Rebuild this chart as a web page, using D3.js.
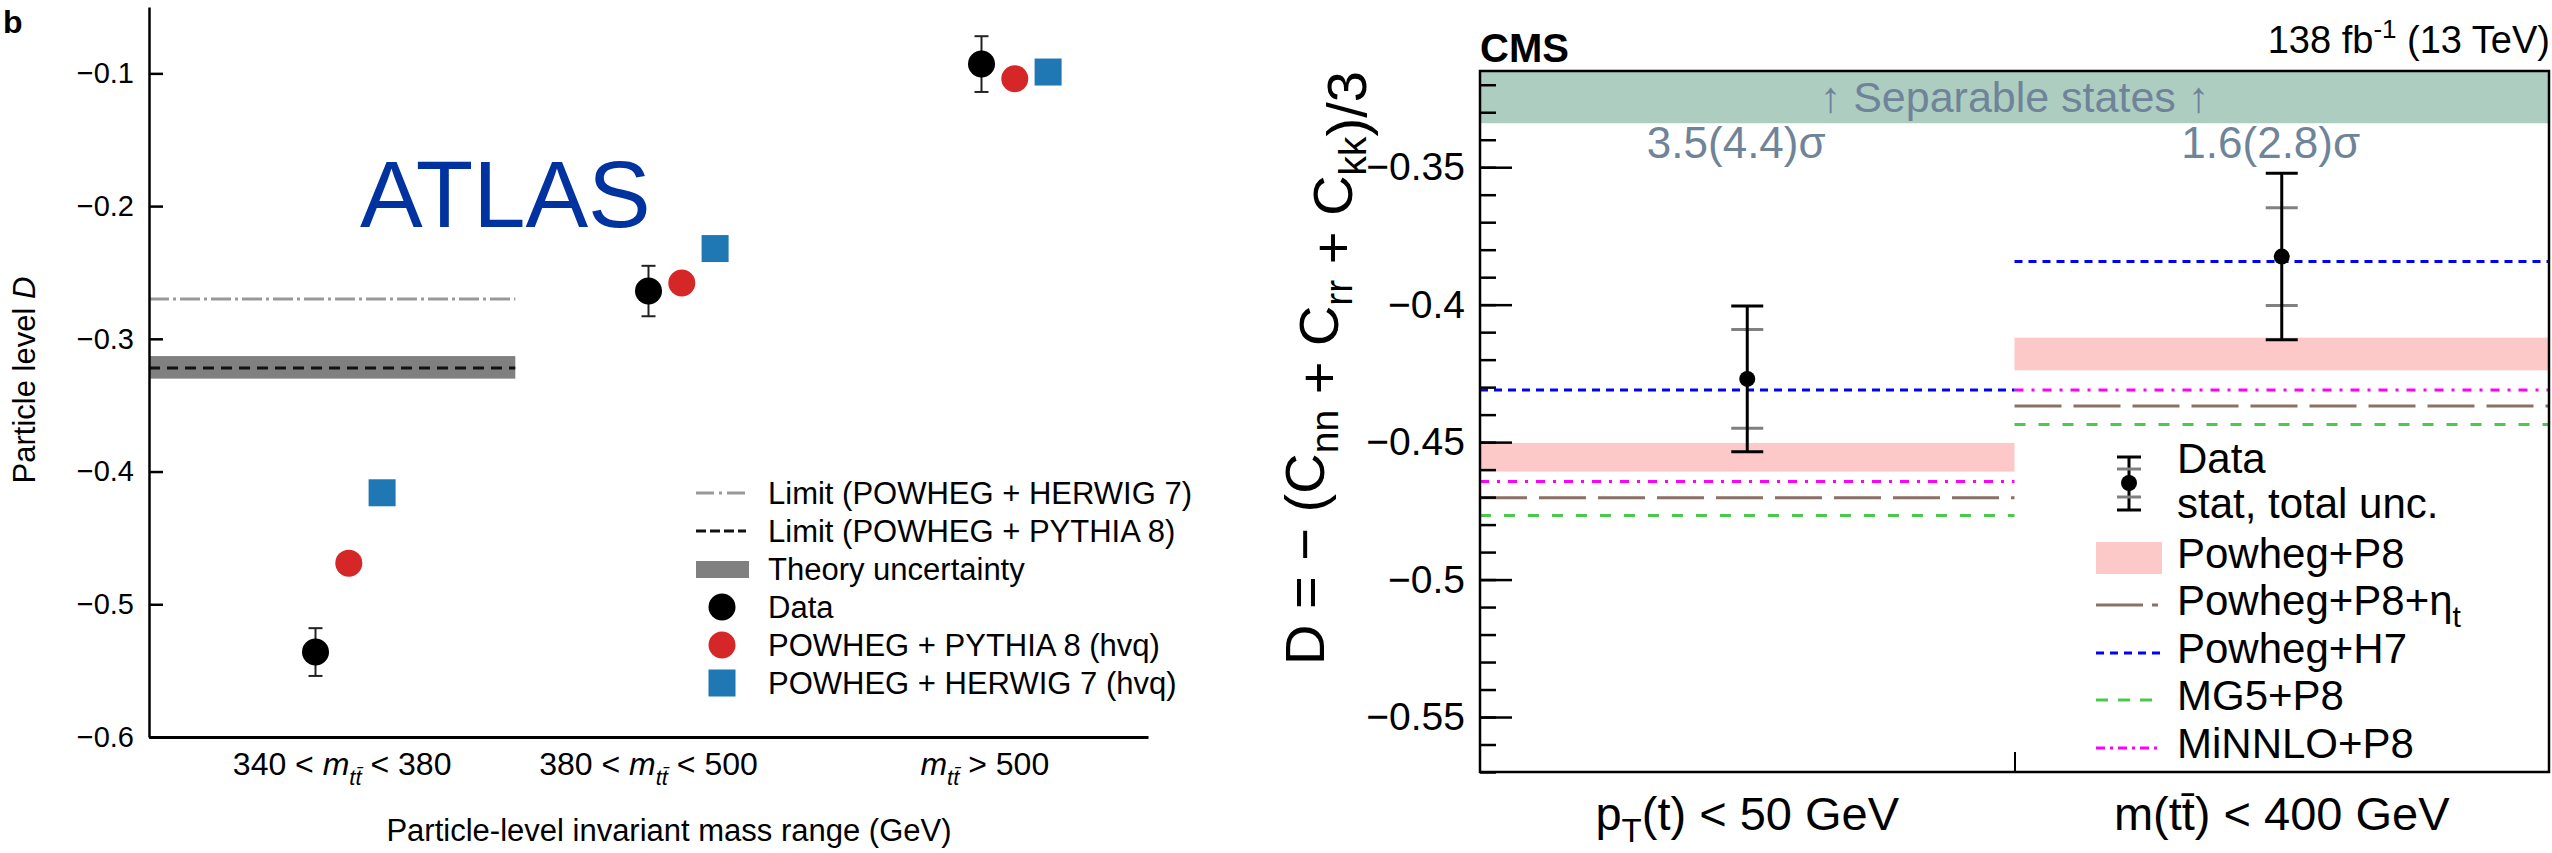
<!DOCTYPE html>
<html>
<head>
<meta charset="utf-8">
<script src="https://cdn.jsdelivr.net/npm/d3@7"></script>
<style>
  body { margin: 0; background: #fff; }
  svg text { font-family: "Liberation Sans", Arial, Helvetica, sans-serif; }
</style>
</head>
<body>
<svg id="chart" width="2552" height="853"></svg>
<script>
// ---- ATLAS panel (b) data ----
var atlasCatLabels = [["340 < ", " < 380"], ["380 < ", " < 500"], ["", " > 500"]];
var atlasLabelPos = [0.08, 1.0, 2.01];
var atlasData = [-0.536, -0.264, -0.093];
var atlasDataErr = [0.018, 0.019, 0.021];
var atlasPythia = [-0.469, -0.258, -0.104];
var atlasHerwig = [-0.416, -0.232, -0.099];
var atlasLimitHerwig = -0.270;
var atlasLimitPythia = -0.322;
var atlasTheoryBand = [-0.330, -0.313];
var atlasLimitEnd = 0.6;
var atlasYTicks = [-0.6, -0.5, -0.4, -0.3, -0.2, -0.1];
var atlasLegend = ["Limit (POWHEG + HERWIG 7)", "Limit (POWHEG + PYTHIA 8)", "Theory uncertainty",
  "Data", "POWHEG + PYTHIA 8 (hvq)", "POWHEG + HERWIG 7 (hvq)"];

// ---- CMS panel data ----
var cmsData = [-0.427, -0.3825];
var cmsStat = [0.018, 0.0178];
var cmsTotal = [0.0265, 0.0303];
var cmsP8Band = [[-0.4607, -0.4503], [-0.4239, -0.4120]];
var cmsP8Eta = [-0.4702, -0.4369];
var cmsH7 = [-0.4310, -0.3843];
var cmsMG5 = [-0.4767, -0.4436];
var cmsMiNNLO = [-0.4643, -0.4310];
var cmsSignif = ["3.5(4.4)σ", "1.6(2.8)σ"];
var cmsSeparable = -0.334;
var cmsMajorTicks = [-0.55, -0.5, -0.45, -0.4, -0.35];
var cmsMinorTicks = d3.range(-57, -31).map(function (v) { return v / 100; });

var svg = d3.select("#chart");
var FONT = '"Liberation Sans", Arial, Helvetica, sans-serif';

// ================= ATLAS =================
var ay = d3.scaleLinear().domain([-0.6, -0.05]).range([737, 7]);
var ax = d3.scaleLinear().domain([-0.5, 2.5]).range([149, 1148]);
var left = svg.append("g");

// theory band and limits (first mass bin only)
left.append("rect")
  .attr("x", ax(-0.5)).attr("width", ax(atlasLimitEnd) - ax(-0.5))
  .attr("y", ay(atlasTheoryBand[1])).attr("height", ay(atlasTheoryBand[0]) - ay(atlasTheoryBand[1]))
  .attr("fill", "#808080");
left.append("line")
  .attr("x1", ax(-0.5)).attr("x2", ax(atlasLimitEnd))
  .attr("y1", ay(atlasLimitPythia)).attr("y2", ay(atlasLimitPythia))
  .attr("stroke", "#111").attr("stroke-width", 3).attr("stroke-dasharray", "11,7");
left.append("line")
  .attr("x1", ax(-0.5)).attr("x2", ax(atlasLimitEnd))
  .attr("y1", ay(atlasLimitHerwig)).attr("y2", ay(atlasLimitHerwig))
  .attr("stroke", "#999").attr("stroke-width", 3).attr("stroke-dasharray", "20,4,3,4");

// axes
var gy = left.append("g").attr("transform", "translate(" + ax(-0.5) + ",0)")
  .call(d3.axisLeft(ay).tickValues(atlasYTicks).tickSize(-14).tickSizeOuter(0).tickPadding(15).tickFormat(d3.format("~f")));
gy.attr("font-family", FONT).attr("font-size", 29);
gy.select(".domain").attr("stroke-width", 2.5);
gy.selectAll(".tick line").attr("stroke-width", 2.5);

var gx = left.append("g").attr("transform", "translate(0," + ay(-0.6) + ")")
  .call(d3.axisBottom(ax).tickValues([]).tickSizeOuter(0));
gx.select(".domain").attr("stroke-width", 3);

// category labels
atlasCatLabels.forEach(function (lab, i) {
  var t = left.append("text")
    .attr("x", ax(atlasLabelPos[i])).attr("y", 775)
    .attr("text-anchor", "middle").attr("font-size", 32);
  t.append("tspan").text(lab[0]);
  t.append("tspan").attr("font-style", "italic").text("m");
  t.append("tspan").attr("font-style", "italic").attr("font-size", 22).attr("dy", 10).text("tt\u0304");
  t.append("tspan").attr("dy", -10).text(lab[1]);
});

// data and predictions
var dataG = left.append("g");
atlasData.forEach(function (v, i) {
  var x = ax(i), e = atlasDataErr[i];
  dataG.append("line").attr("x1", x).attr("x2", x).attr("y1", ay(v + e)).attr("y2", ay(v - e))
    .attr("stroke", "#222").attr("stroke-width", 2);
  [v + e, v - e].forEach(function (c) {
    dataG.append("line").attr("x1", x - 7).attr("x2", x + 7).attr("y1", ay(c)).attr("y2", ay(c))
      .attr("stroke", "#222").attr("stroke-width", 2);
  });
  dataG.append("circle").attr("cx", x).attr("cy", ay(v)).attr("r", 13.5).attr("fill", "#000");
});
dataG.selectAll(".py").data(atlasPythia).enter().append("circle")
  .attr("cx", function (d, i) { return ax(i + 0.1); })
  .attr("cy", function (d) { return ay(d); })
  .attr("r", 13.5).attr("fill", "#d62728");
dataG.selectAll(".hw").data(atlasHerwig).enter().append("rect")
  .attr("x", function (d, i) { return ax(i + 0.2) - 13.5; })
  .attr("y", function (d) { return ay(d) - 13.5; })
  .attr("width", 27).attr("height", 27).attr("fill", "#1f77b4");

// legend
var lg = left.append("g");
atlasLegend.forEach(function (name, i) {
  var y = 493 + i * 38;
  if (i === 0) lg.append("line").attr("x1", 696).attr("x2", 746).attr("y1", y).attr("y2", y)
    .attr("stroke", "#999").attr("stroke-width", 3).attr("stroke-dasharray", "18,5,3,5");
  if (i === 1) lg.append("line").attr("x1", 696).attr("x2", 746).attr("y1", y).attr("y2", y)
    .attr("stroke", "#111").attr("stroke-width", 3).attr("stroke-dasharray", "10,4");
  if (i === 2) lg.append("rect").attr("x", 696).attr("y", y - 8).attr("width", 53).attr("height", 17).attr("fill", "#808080");
  if (i === 3) lg.append("circle").attr("cx", 722).attr("cy", y).attr("r", 13.5).attr("fill", "#000");
  if (i === 4) lg.append("circle").attr("cx", 722).attr("cy", y).attr("r", 13.5).attr("fill", "#d62728");
  if (i === 5) lg.append("rect").attr("x", 708.5).attr("y", y - 13.5).attr("width", 27).attr("height", 27).attr("fill", "#1f77b4");
  lg.append("text").attr("x", 768).attr("y", y).attr("dy", "0.36em").attr("font-size", 31).text(name);
});

// titles
left.append("text").attr("x", 360).attr("y", 227).attr("font-size", 94).attr("fill", "#0033a0").text("ATLAS");
left.append("text").attr("x", 3).attr("y", 33).attr("font-size", 32).attr("font-weight", "bold").text("b");
var ylab = left.append("text").attr("transform", "translate(35,380) rotate(-90)")
  .attr("text-anchor", "middle").attr("font-size", 31);
ylab.append("tspan").text("Particle level ");
ylab.append("tspan").attr("font-style", "italic").text("D");
left.append("text").attr("x", 669).attr("y", 841).attr("text-anchor", "middle").attr("font-size", 31)
  .text("Particle-level invariant mass range (GeV)");

// ================= CMS =================
var cy = d3.scaleLinear().domain([-0.57, -0.315]).range([772, 71]);
var cx = d3.scaleBand().domain([0, 1]).range([1480, 2549]);
var cxl = d3.scaleLinear().domain([0, 2]).range([1480, 2549]);
var bw = cx.bandwidth();
var right = svg.append("g");

// separable states band
right.append("rect").attr("x", cx(0)).attr("width", bw * 2)
  .attr("y", cy(-0.315)).attr("height", cy(cmsSeparable) - cy(-0.315)).attr("fill", "#aecdc1");
right.append("text").attr("x", cxl(1)).attr("y", 112).attr("text-anchor", "middle")
  .attr("font-size", 43).attr("fill", "#6f8499").text("\u2191 Separable states \u2191");

// predictions
var lineStyles = [
  { vals: cmsP8Eta, color: "#8c7064", dash: "47,12" },
  { vals: cmsMG5, color: "#4cc94c", dash: "11,13" },
  { vals: cmsMiNNLO, color: "#ff00ff", dash: "9,8,3,8" },
  { vals: cmsH7, color: "#0000ff", dash: "8,6" }
];
cmsP8Band.forEach(function (b, i) {
  right.append("rect").attr("x", cx(i)).attr("width", bw)
    .attr("y", cy(b[1])).attr("height", cy(b[0]) - cy(b[1])).attr("fill", "#fcc8c8");
});
lineStyles.forEach(function (s) {
  s.vals.forEach(function (v, i) {
    right.append("line").attr("x1", cx(i)).attr("x2", cx(i) + bw).attr("y1", cy(v)).attr("y2", cy(v))
      .attr("stroke", s.color).attr("stroke-width", 3).attr("stroke-dasharray", s.dash);
  });
});

// significance labels
cmsSignif.forEach(function (s, i) {
  right.append("text").attr("x", cx(i) + bw / 2 - 11).attr("y", 158).attr("text-anchor", "middle")
    .attr("font-size", 44).attr("fill", "#6f8499").text(s);
});

// data with stat and total uncertainties
cmsData.forEach(function (v, i) {
  var x = cx(i) + bw / 2;
  [v + cmsStat[i], v - cmsStat[i]].forEach(function (c) {
    right.append("line").attr("x1", x - 16).attr("x2", x + 16).attr("y1", cy(c)).attr("y2", cy(c))
      .attr("stroke", "#808080").attr("stroke-width", 3);
  });
  right.append("line").attr("x1", x).attr("x2", x).attr("y1", cy(v + cmsTotal[i])).attr("y2", cy(v - cmsTotal[i]))
    .attr("stroke", "#000").attr("stroke-width", 3);
  [v + cmsTotal[i], v - cmsTotal[i]].forEach(function (c) {
    right.append("line").attr("x1", x - 16).attr("x2", x + 16).attr("y1", cy(c)).attr("y2", cy(c))
      .attr("stroke", "#000").attr("stroke-width", 3);
  });
  right.append("circle").attr("cx", x).attr("cy", cy(v)).attr("r", 8).attr("fill", "#000");
});

// axes and frame
var cgy = right.append("g").attr("transform", "translate(" + cx(0) + ",0)")
  .call(d3.axisLeft(cy).tickValues(cmsMajorTicks).tickSize(-32).tickSizeOuter(0).tickPadding(15).tickFormat(d3.format("~f")));
cgy.attr("font-family", FONT).attr("font-size", 39);
cgy.selectAll(".tick line").attr("stroke-width", 2.5);
right.append("g").attr("transform", "translate(" + cx(0) + ",0)")
  .call(d3.axisLeft(cy).tickValues(cmsMinorTicks).tickSize(-16).tickSizeOuter(0).tickFormat(""))
  .call(function (g) { g.select(".domain").remove(); g.selectAll(".tick line").attr("stroke-width", 2.5); });
right.append("g").attr("transform", "translate(0," + cy(-0.57) + ")")
  .call(d3.axisBottom(cxl).tickValues([1]).tickSize(-20).tickSizeOuter(0).tickFormat(""))
  .call(function (g) { g.select(".domain").remove(); g.selectAll(".tick line").attr("stroke-width", 2); });
right.append("rect").attr("x", cx(0)).attr("y", cy(-0.315)).attr("width", bw * 2).attr("height", cy(-0.57) - cy(-0.315))
  .attr("fill", "none").attr("stroke", "#000").attr("stroke-width", 2.5);

// category labels
var c0 = right.append("text").attr("x", cx(0) + bw / 2).attr("y", 830).attr("text-anchor", "middle").attr("font-size", 47);
c0.append("tspan").text("p");
c0.append("tspan").attr("font-size", 33).attr("dy", 12).text("T");
c0.append("tspan").attr("dy", -12).text("(t) < 50 GeV");
right.append("text").attr("x", cx(1) + bw / 2).attr("y", 830).attr("text-anchor", "middle").attr("font-size", 47)
  .text("m(tt\u0304) < 400 GeV");

// y title
var cyl = right.append("text").attr("transform", "translate(1324,368) rotate(-90)")
  .attr("text-anchor", "middle").attr("font-size", 56);
[["D = \u2212 (C", "nn"], [" + C", "rr"], [" + C", "kk"], [")/3", null]].forEach(function (p) {
  cyl.append("tspan").text(p[0]);
  if (p[1]) {
    cyl.append("tspan").attr("font-size", 39).attr("dy", 14).text(p[1]);
    cyl.append("tspan").attr("dy", -14).text("");
  }
});

// CMS label and lumi
right.append("text").attr("x", 1480).attr("y", 62).attr("font-size", 40).attr("font-weight", "bold").text("CMS");
var lumi = right.append("text").attr("x", 2550).attr("y", 53).attr("text-anchor", "end").attr("font-size", 38);
lumi.append("tspan").text("138 fb");
lumi.append("tspan").attr("font-size", 26).attr("dy", -15).text("-1");
lumi.append("tspan").attr("dy", 15).text(" (13 TeV)");

// legend
var cl = right.append("g");
var lx0 = 2096, lx1 = 2162, tx = 2177;
var dx = (lx0 + lx1) / 2;
cl.append("line").attr("x1", dx).attr("x2", dx).attr("y1", 457).attr("y2", 510).attr("stroke", "#000").attr("stroke-width", 3);
[457, 510].forEach(function (y) {
  cl.append("line").attr("x1", dx - 12).attr("x2", dx + 12).attr("y1", y).attr("y2", y).attr("stroke", "#000").attr("stroke-width", 3);
});
[469, 497].forEach(function (y) {
  cl.append("line").attr("x1", dx - 12).attr("x2", dx + 12).attr("y1", y).attr("y2", y).attr("stroke", "#808080").attr("stroke-width", 3);
});
cl.append("circle").attr("cx", dx).attr("cy", 483).attr("r", 8).attr("fill", "#000");
cl.append("text").attr("x", tx).attr("y", 473).attr("font-size", 42).text("Data");
cl.append("text").attr("x", tx).attr("y", 518).attr("font-size", 42).text("stat, total unc.");
cl.append("rect").attr("x", lx0).attr("y", 542).attr("width", lx1 - lx0).attr("height", 32).attr("fill", "#fcc8c8");
cl.append("text").attr("x", tx).attr("y", 568).attr("font-size", 42).text("Powheg+P8");
var legLines = [
  { y: 615, color: "#8c7064", dash: "47,9,6" },
  { y: 663, color: "#0000ff", dash: "8,6" },
  { y: 710, color: "#4cc94c", dash: "12,10" },
  { y: 758, color: "#ff00ff", dash: "9,5,3,5" }
];
legLines.forEach(function (l) {
  cl.append("line").attr("x1", lx0).attr("x2", lx1).attr("y1", l.y - 10).attr("y2", l.y - 10)
    .attr("stroke", l.color).attr("stroke-width", 3).attr("stroke-dasharray", l.dash);
});
var eta = cl.append("text").attr("x", tx).attr("y", 615).attr("font-size", 42);
eta.append("tspan").text("Powheg+P8+\u03b7");
eta.append("tspan").attr("font-size", 30).attr("dy", 12).text("t");
cl.append("text").attr("x", tx).attr("y", 663).attr("font-size", 42).text("Powheg+H7");
cl.append("text").attr("x", tx).attr("y", 710).attr("font-size", 42).text("MG5+P8");
cl.append("text").attr("x", tx).attr("y", 758).attr("font-size", 42).text("MiNNLO+P8");
</script>
</body>
</html>
